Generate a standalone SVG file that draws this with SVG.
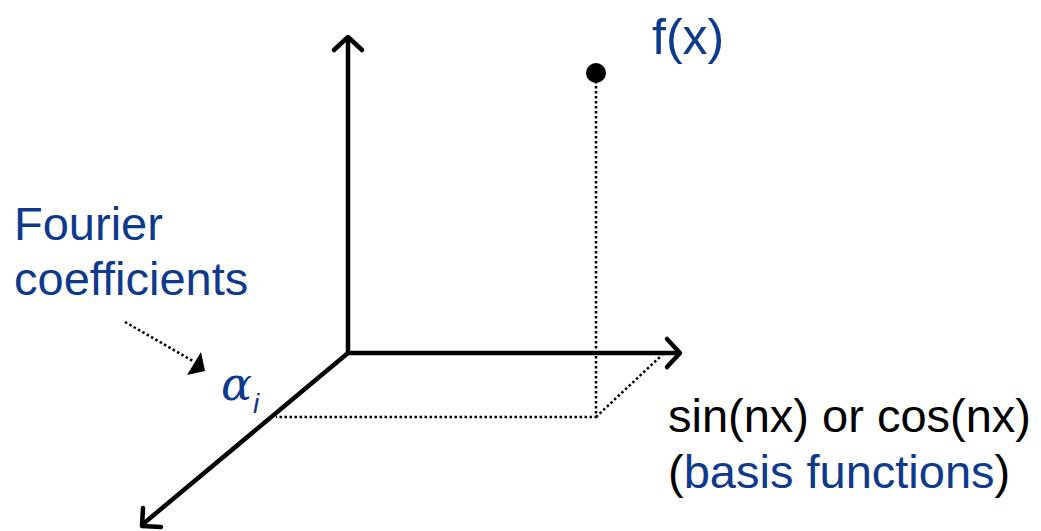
<svg xmlns="http://www.w3.org/2000/svg" width="1041" height="531" viewBox="0 0 1041 531">
<style>
.axis{stroke:#000;stroke-width:4.5;fill:none;stroke-linecap:round;stroke-linejoin:round}
.dot{stroke:#000;stroke-width:2.5;fill:none;stroke-dasharray:2.5 2.5}
.t{font-family:"Liberation Sans",Arial,sans-serif;font-size:47px}
.blue{fill:#0d3a8c}
</style>
<g id="connectors">
<path class="axis" d="M348,353 V38"/>
<path class="axis" d="M334,50 L348,37 L362,50"/>
<path class="axis" d="M348,353 H679"/>
<path class="axis" d="M667,339 L680,353 L667,367"/>
<path class="axis" d="M348,353 L143,524"/>
<path class="axis" d="M143,508 L142,526 L161,527"/>
<path class="dot" d="M596,76 V417 H276"/>
<path class="dot" d="M596,417 L662,355"/>
<path d="M125,322 L193,361" class="dot"/>
<path d="M201,352 L205,371 L187,375 Z" fill="#000"/>
</g>
<g id="point">
<circle cx="596" cy="73" r="10" fill="#000"/>
</g>
<g id="fx"><text class="t blue" x="652" y="54" style="font-size:50px">f(x)</text></g>
<g id="fourier"><text class="t blue" x="14" y="240">Fourier</text><text class="t blue" x="14" y="295">coefficients</text></g>
<g id="alpha"><text class="blue" x="221" y="400" font-family="'DejaVu Serif',serif" font-style="italic" font-size="46px">α</text><text class="blue" x="253" y="413" font-family="'Liberation Sans',sans-serif" font-style="italic" font-size="28px">i</text></g>
<g id="basis"><text class="t" x="668" y="432">sin(nx) or cos(nx)</text><text class="t" x="668" y="488">(<tspan class="blue">basis functions</tspan>)</text></g>
</svg>
